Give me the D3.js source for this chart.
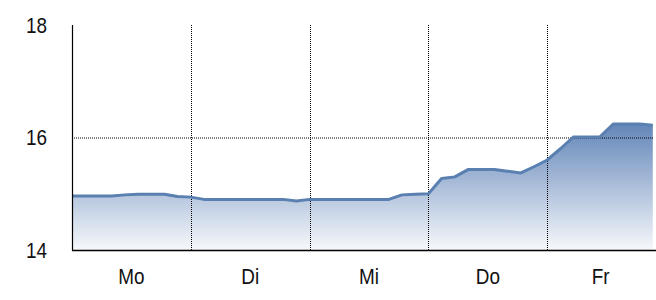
<!DOCTYPE html>
<html>
<head>
<meta charset="utf-8">
<script src="https://cdn.jsdelivr.net/npm/d3@7"></script>
<style>
  html, body { margin: 0; padding: 0; background: #fff; }
  svg { display: block; }
  text { font-family: "Liberation Sans Narrow", "Arial Narrow", "Liberation Sans", Arial, sans-serif; fill: #111; }
</style>
</head>
<body>
<svg id="chart" width="656" height="300"></svg>
<script>
// ---- data ----
const days = ["Mo", "Di", "Mi", "Do", "Fr"];
const pointsPerDay = 9;
const values = [
  14.96, 14.96, 14.96, 14.96, 14.98, 14.99, 14.99, 14.99, 14.95,   // Mo
  14.94, 14.90, 14.90, 14.90, 14.90, 14.90, 14.90, 14.90, 14.87,   // Di
  14.90, 14.90, 14.90, 14.90, 14.90, 14.90, 14.90, 14.98, 14.99,   // Mi
  15.00, 15.27, 15.30, 15.43, 15.43, 15.43, 15.40, 15.37, 15.48,   // Do
  15.60, 15.80, 16.01, 16.01, 16.01, 16.24, 16.24, 16.24, 16.22    // Fr
];
const yTicks = [14, 16, 18];
const yGrid = [16];

(function () {
// ---- layout ----
const svg = d3.select("#chart");
const mLeft = 72, mRight = 654, mTop = 25, mBottom = 250;

const x = d3.scaleLinear().domain([0, days.length * pointsPerDay]).range([mLeft, 666]);
const y = d3.scaleLinear().domain([14, 18]).range([mBottom, mTop]);

// gradient
const defs = svg.append("defs");
const grad = defs.append("linearGradient").attr("id", "fillGrad")
  .attr("x1", 0).attr("y1", 0).attr("x2", 0).attr("y2", 1);
grad.append("stop").attr("offset", "0%").attr("stop-color", "#6386b9");
grad.append("stop").attr("offset", "100%").attr("stop-color", "#f6f8fb");

defs.append("clipPath").attr("id", "clip")
  .append("rect").attr("x", mLeft).attr("y", mTop - 5).attr("width", mRight - mLeft).attr("height", mBottom - mTop + 5);

const data = values.map((v, i) => ({ i, v }));

// area
svg.append("path")
  .datum(data)
  .attr("clip-path", "url(#clip)")
  .attr("fill", "url(#fillGrad)")
  .attr("d", d3.area().x(d => x(d.i)).y0(y(14)).y1(d => y(d.v)));

// grid lines
const dash = "1,1";
svg.append("g").selectAll("line").data(yGrid).join("line")
  .attr("x1", mLeft).attr("x2", mRight)
  .attr("y1", d => y(d) + 0.5).attr("y2", d => y(d) + 0.5)
  .attr("stroke", "#000").attr("stroke-width", 1).attr("stroke-dasharray", dash);

const boundaries = d3.range(1, days.length).map(d => d * pointsPerDay);
svg.append("g").selectAll("line").data(boundaries).join("line")
  .attr("x1", d => Math.round(x(d)) + 0.5).attr("x2", d => Math.round(x(d)) + 0.5)
  .attr("y1", mTop).attr("y2", mBottom)
  .attr("stroke", "#000").attr("stroke-width", 1).attr("stroke-dasharray", dash);

// line
svg.append("path")
  .datum(data)
  .attr("fill", "none")
  .attr("stroke", "#5a7fb1")
  .attr("stroke-width", 3)
  .attr("stroke-linejoin", "round")
  .attr("d", d3.line().x(d => x(d.i)).y(d => y(d.v)));

// axes lines
svg.append("line").attr("x1", mLeft + 0.5).attr("x2", mLeft + 0.5).attr("y1", mTop).attr("y2", mBottom + 1)
  .attr("stroke", "#000").attr("stroke-width", 1.2);
svg.append("line").attr("x1", mLeft).attr("x2", 656).attr("y1", mBottom + 0.5).attr("y2", mBottom + 0.5)
  .attr("stroke", "#000").attr("stroke-width", 1.5);

// y tick labels (slightly condensed)
svg.append("g").selectAll("text").data(yTicks).join("text")
  .attr("transform", d => `translate(47,${y(d)}) scale(0.88,1)`)
  .attr("dy", "0.36em")
  .attr("text-anchor", "end")
  .attr("font-size", 21.5)
  .text(d => d);

// x labels, centered in each day's visible band
svg.append("g").selectAll("text").data(days).join("text")
  .attr("transform", (d, k) => {
    const cx = (x(k * pointsPerDay) + Math.min(x((k + 1) * pointsPerDay), mRight)) / 2;
    return `translate(${cx},276) scale(0.88,1)`;
  })
  .attr("dy", "0.36em")
  .attr("text-anchor", "middle")
  .attr("font-size", 21.5)
  .text(d => d);
})();
</script>
</body>
</html>
